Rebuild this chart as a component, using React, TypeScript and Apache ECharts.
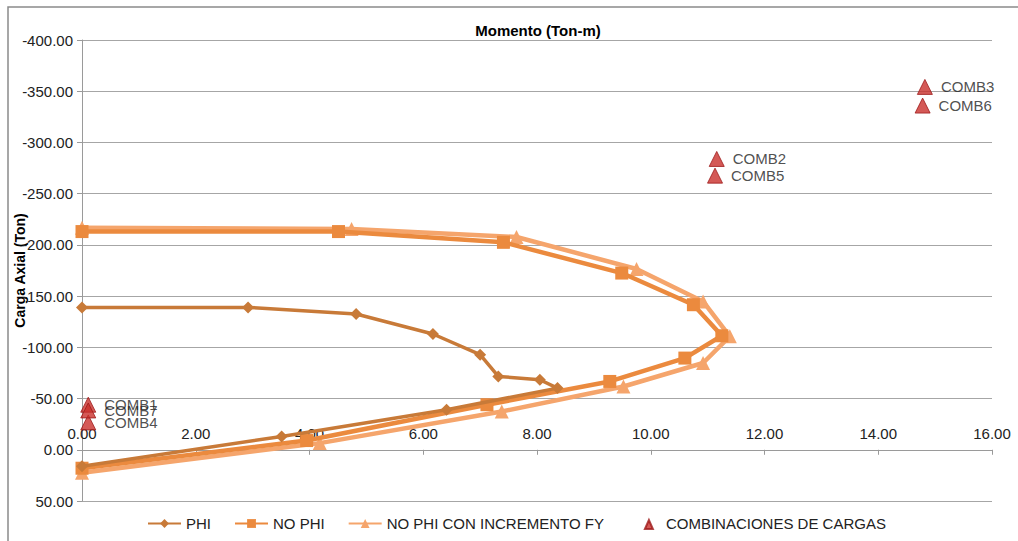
import React, { useEffect, useRef } from "react";
import * as echarts from "echarts";

// Momento (Ton-m) , Carga Axial (Ton)
const phiX = [0, 2.92, 4.82, 6.17, 7.0, 7.32, 8.05, 8.36, 6.41, 3.51, 0];
const phiY = [-139, -139, -132.5, -113, -92.8, -71.6, -68.4, -60.2, -39, -13, 16];

const noPhiX = [0, 4.51, 7.41, 9.49, 10.75, 11.25, 10.6, 9.28, 7.12, 3.95, 0];
const noPhiY = [-213, -213, -202.5, -172.5, -141.6, -111.3, -89.5, -66.7, -44, -9, 18];

const incX = [0, 4.74, 7.64, 9.75, 10.92, 11.39, 10.92, 9.52, 7.38, 4.18, 0];
const incY = [-216.8, -215.5, -207.7, -176.5, -144.8, -110.7, -84.7, -61.8, -37.4, -6.5, 22.5];

const combNames = ["COMB1", "COMB2", "COMB3", "COMB4", "COMB5", "COMB6", "COMB7"];
const combX = [0.11, 11.16, 14.82, 0.11, 11.13, 14.78, 0.11];
const combY = [-44, -283.9, -354.2, -26.7, -267.6, -336, -38.4];

const seriesNames = ["PHI", "NO PHI", "NO PHI CON INCREMENTO FY", "COMBINACIONES DE CARGAS"];

const Y_MIN = -400;
const Y_MAX = 50;

const FONT = "Liberation Sans, Arial, sans-serif";

export default function App() {
  const ref = useRef<HTMLDivElement>(null);
  useEffect(() => {
    if (!ref.current) return;
    const chart = echarts.init(ref.current, undefined, { renderer: "svg" });
    const pairs = (xs: number[], ys: number[]) => xs.map((x, i) => [x, ys[i]]);
    chart.setOption({
      animation: false,
      textStyle: { fontFamily: FONT },
      grid: {
        left: 82,
        right: 26,
        top: 40,
        bottom: 40,
        containLabel: false,
        outerBoundsMode: "none",
      },
      graphic: [
        {
          type: "polyline",
          shape: { points: [[8, 541], [8, 7], [1018, 7]] },
          style: { stroke: "#8a8a8a", lineWidth: 1.5, fill: "none" },
          silent: true,
        },
        {
          type: "text",
          x: 538,
          y: 30,
          style: {
            text: "Momento (Ton-m)",
            font: "bold 15px " + FONT,
            fill: "#000",
            textAlign: "center",
            textVerticalAlign: "middle",
          },
        },
      ],
      legend: {
        left: 142,
        top: 511,
        itemGap: 23,
        itemWidth: 33,
        itemHeight: 11,
        textStyle: { fontSize: 15, color: "#222", fontFamily: FONT },
        data: [
          seriesNames[0],
          seriesNames[1],
          seriesNames[2],
          {
            name: seriesNames[3],
            icon: "path://M0,0 M33,11 M17,11 L21,2 L25,11 Z",
          },
        ],
      },
      xAxis: {
        type: "value",
        position: "bottom",
        min: 0,
        max: 16,
        interval: 2,
        axisLine: { onZero: true, lineStyle: { color: "#9a9a9a", width: 1 } },
        axisTick: { show: true, inside: false, length: 5, lineStyle: { color: "#9a9a9a" } },
        axisLabel: {
          inside: true,
          formatter: (v: number) => v.toFixed(2),
          fontSize: 15,
          color: "#222",
          margin: 9,
        },
        splitLine: { show: false },
      },
      yAxis: {
        type: "value",
        inverse: true,
        min: Y_MIN,
        max: Y_MAX,
        interval: 50,
        name: "Carga Axial (Ton)",
        nameLocation: "middle",
        nameGap: 55,
        nameMoveOverlap: false,
        nameTextStyle: { fontWeight: "bold", fontSize: 14, color: "#000" },
        axisLine: { show: true, onZero: false, lineStyle: { color: "#9a9a9a" } },
        axisTick: { show: true, length: 5, lineStyle: { color: "#9a9a9a" } },
        axisLabel: {
          formatter: (v: number) => v.toFixed(2),
          fontSize: 15,
          color: "#222",
          margin: 9,
        },
        splitLine: { show: true, lineStyle: { color: "#a6a6a6", width: 1 } },
      },
      series: [
        {
          name: seriesNames[0],
          type: "line",
          data: pairs(phiX, phiY),
          symbol: "diamond",
          symbolSize: 12,
          lineStyle: { color: "#c87a38", width: 3.5 },
          itemStyle: { color: "#c87a38" },
          z: 4,
        },
        {
          name: seriesNames[1],
          type: "line",
          data: pairs(noPhiX, noPhiY),
          symbol: "rect",
          symbolSize: 13,
          lineStyle: { color: "#eb8a3e", width: 4.5 },
          itemStyle: { color: "#eb8a3e" },
          z: 3,
        },
        {
          name: seriesNames[2],
          type: "line",
          data: pairs(incX, incY),
          symbol: "triangle",
          symbolSize: 14,
          lineStyle: { color: "#f5a56c", width: 4.5 },
          itemStyle: { color: "#f5a56c" },
          z: 2,
        },
        {
          name: seriesNames[3],
          type: "scatter",
          data: combNames.map((n, i) => ({ name: n, value: [combX[i], combY[i]] })),
          symbol: "triangle",
          symbolSize: 15,
          itemStyle: { color: "#c9302c", borderColor: "#9e1a1a", borderWidth: 1 },
          label: {
            show: true,
            position: "right",
            distance: 8,
            formatter: (p: any) => p.name,
            fontSize: 15,
            color: "#222",
          },
          z: 5,
        },
      ],
    });
    // place the x axis on the value-axis zero line (Excel style crossing)
    const zeroPx = chart.convertToPixel({ yAxisIndex: 0 }, 0) as number;
    const bottomPx = chart.convertToPixel({ yAxisIndex: 0 }, Y_MAX) as number;
    if (typeof zeroPx === "number" && typeof bottomPx === "number") {
      chart.setOption({ xAxis: { axisLine: { onZero: false }, offset: zeroPx - bottomPx } });
    }
    return () => chart.dispose();
  }, []);
  return (
    <div
      ref={ref}
      style={{ position: "fixed", left: 0, top: 0, width: 1018, height: 541, background: "#fff" }}
    />
  );
}
